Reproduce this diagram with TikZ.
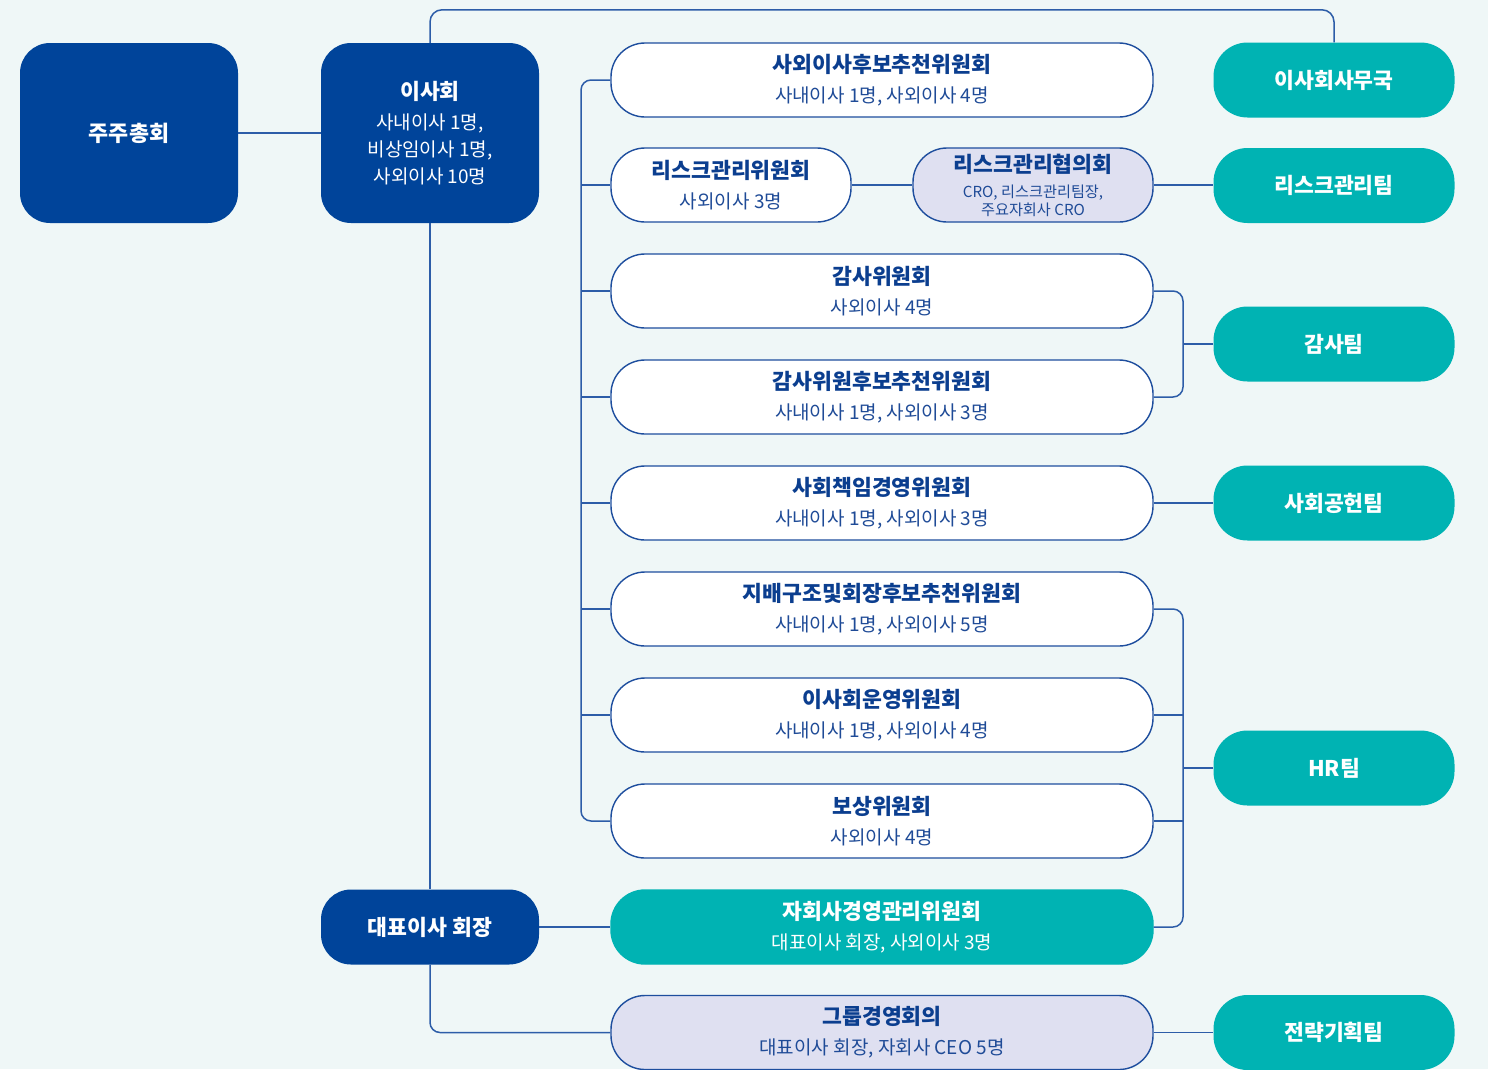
\documentclass[tikz,border=0pt]{standalone}
\usepackage{fontspec}
\setmainfont{Noto Sans CJK KR}
\definecolor{bgc}{HTML}{EFF7F7}
\definecolor{navy}{HTML}{00449A}
\definecolor{tealc}{HTML}{00B3B3}
\definecolor{lav}{HTML}{DFE0F1}
\definecolor{linec}{HTML}{2D5DA8}
\definecolor{bord}{HTML}{1E4E9E}
\definecolor{ttl}{HTML}{0B3E8F}
\definecolor{subc}{HTML}{1F4B97}
\begin{document}
\begin{tikzpicture}[x=1pt,y=-1pt,
  board/.style={fill=navy, rounded corners=30pt, minimum width=218pt, minimum height=180pt, inner sep=0pt, text=white, align=center, font=\fontsize{19}{27}\selectfont},
  comm/.style={draw=bord, line width=1.4pt, fill=white, rounded corners=34pt, minimum width=542pt, minimum height=74pt, inner sep=0pt, align=center, text=subc, font=\fontsize{19}{30}\selectfont},
  team/.style={fill=tealc, rounded corners=34pt, minimum width=241pt, minimum height=75pt, inner sep=0pt, text=white, font=\bfseries\fontsize{21.6}{24}\selectfont},
  conn/.style={draw=linec, line width=1.5pt},
  rc/.style={rounded corners=10pt}]
\clip (0,0) rectangle (1488,1069);
\fill[bgc] (0,0) rectangle (1488,1069);
\newcommand{\ttlx}[1]{{\bfseries\fontsize{21.6}{24}\selectfont\color{ttl}#1}}
\newcommand{\ttlw}[1]{{\bfseries\fontsize{21.6}{24}\selectfont#1}}
% left column
\node[board, font=\bfseries\fontsize{21.8}{24}\selectfont] (jj) at (129,133) {주주총회};
\node[board] (isa) at (430,133) {\ttlw{이사회}\\[3pt]사내이사 1명,\\비상임이사 1명,\\사외이사 10명};
\node[board, minimum height=75pt, font=\bfseries\fontsize{21.6}{24}\selectfont] (ceo) at (430,927) {대표이사 회장};
% committees
\node[comm] (c1) at (882,80) {\ttlx{사외이사후보추천위원회}\\사내이사 1명, 사외이사 4명};
\node[comm, minimum width=240pt] (c2) at (731,185) {\ttlx{리스크관리위원회}\\사외이사 3명};
\node[comm, minimum width=240pt, fill=lav, font=\fontsize{15.2}{18}\selectfont] (c2b) at (1033,185) {\ttlx{리스크관리협의회}\\[7pt]CRO, 리스크관리팀장,\\주요자회사 CRO};
\node[comm] (c3) at (882,291) {\ttlx{감사위원회}\\사외이사 4명};
\node[comm] (c4) at (882,397) {\ttlx{감사위원후보추천위원회}\\사내이사 1명, 사외이사 3명};
\node[comm] (c5) at (882,503) {\ttlx{사회책임경영위원회}\\사내이사 1명, 사외이사 3명};
\node[comm] (c6) at (882,609) {\ttlx{지배구조및회장후보추천위원회}\\사내이사 1명, 사외이사 5명};
\node[comm] (c7) at (882,715) {\ttlx{이사회운영위원회}\\사내이사 1명, 사외이사 4명};
\node[comm] (c8) at (882,821) {\ttlx{보상위원회}\\사외이사 4명};
\node[comm, draw=tealc, fill=tealc, text=white] (c9) at (882,927) {\ttlw{자회사경영관리위원회}\\대표이사 회장, 사외이사 3명};
\node[comm, fill=lav] (c10) at (882,1032.5) {\ttlx{그룹경영회의}\\대표이사 회장, 자회사 CEO 5명};
% teams
\node[team] (t1) at (1334,80) {이사회사무국};
\node[team] (t2) at (1334,185.5) {리스크관리팀};
\node[team] (t3) at (1334,344) {감사팀};
\node[team] (t4) at (1334,503) {사회공헌팀};
\node[team] (t5) at (1334,768) {HR팀};
\node[team] (t6) at (1334,1032.5) {전략기획팀};
% bus coordinates
\coordinate (busL) at (581,0);
\coordinate (busR) at (1183,0);
% connectors
\draw[conn] (jj.east) -- (isa.west);
\draw[conn, rounded corners=12pt] (isa.north) -- ++(0,-33) -| (t1.north);
\draw[conn] (isa.south) -- (ceo.north);
\draw[conn, rc] (c1.west) -- (c1.west -| busL) -- (c8.west -| busL) -- (c8.west);
\foreach \n in {c2,c3,c4,c5,c6,c7} \draw[conn] (\n.west) -- (\n.west -| busL);
\draw[conn] (c2.east) -- (c2b.west);
\draw[conn] (c2b.east) -- (c2b.east -| t2.west);
\draw[conn, rc] (c3.east) -- (c3.east -| busR) -- (c4.east -| busR) -- (c4.east);
\draw[conn] (t3.west) -- (t3.west -| busR);
\draw[conn] (c5.east) -- (t4.west);
\draw[conn, rc] (c6.east) -- (c6.east -| busR) -- (c9.east -| busR) -- (c9.east);
\draw[conn] (c7.east) -- (c7.east -| busR);
\draw[conn] (c8.east) -- (c8.east -| busR);
\draw[conn] (t5.west) -- (t5.west -| busR);
\draw[conn] (ceo.east) -- (c9.west);
\draw[conn, rc] (ceo.south) |- (c10.west);
\draw[conn] (c10.east) -- (t6.west);
\end{tikzpicture}
\end{document}
